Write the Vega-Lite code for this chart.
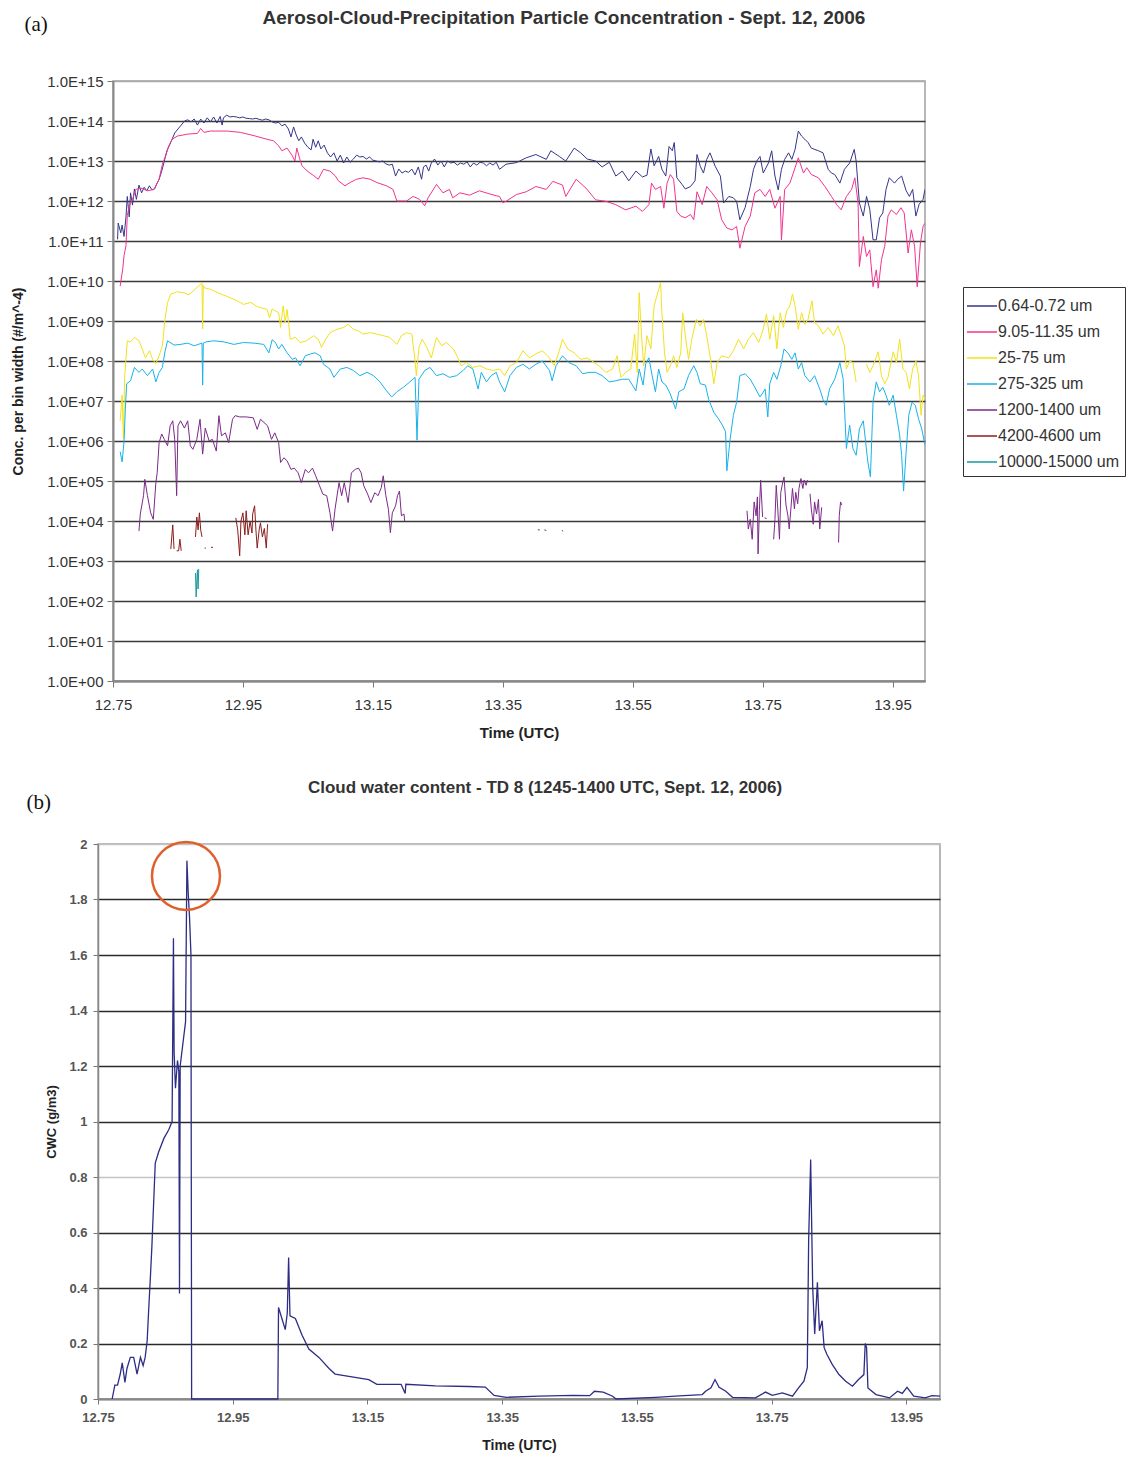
{
"$schema": "https://vega.github.io/schema/vega-lite/v6.json",
"background": "white",
"padding": {"left": 10, "top": 8, "right": 0, "bottom": 0},
"config": {
  "font": "Liberation Sans",
  "view": {"stroke": "#a0a0a0", "strokeWidth": 1.5},
  "axis": {"labelFont": "Liberation Sans", "titleFont": "Liberation Sans", "labelColor": "#333333", "titleColor": "#222222"}
},
"datasets": {
"conc": [
{"s":"0.64-0.72 um","t":12.757,"c":1.1e11},{"s":"0.64-0.72 um","t":12.758,"c":2.8e11},{"s":"0.64-0.72 um","t":12.762,"c":1.6e11},{"s":"0.64-0.72 um","t":12.764,"c":2.5e11},{"s":"0.64-0.72 um","t":12.767,"c":1.3e11},{"s":"0.64-0.72 um","t":12.770,"c":4e11},{"s":"0.64-0.72 um","t":12.772,"c":1.3e12},{"s":"0.64-0.72 um","t":12.775,"c":4e11},{"s":"0.64-0.72 um","t":12.777,"c":1.6e12},{"s":"0.64-0.72 um","t":12.780,"c":7.9e11},{"s":"0.64-0.72 um","t":12.783,"c":2e12},{"s":"0.64-0.72 um","t":12.786,"c":1.1e12},{"s":"0.64-0.72 um","t":12.790,"c":2.5e12},{"s":"0.64-0.72 um","t":12.794,"c":1.6e12},{"s":"0.64-0.72 um","t":12.798,"c":2.2e12},{"s":"0.64-0.72 um","t":12.802,"c":1.8e12},{"s":"0.64-0.72 um","t":12.806,"c":2.4e12},{"s":"0.64-0.72 um","t":12.810,"c":1.9e12},{"s":"0.64-0.72 um","t":12.814,"c":2e12},{"s":"0.64-0.72 um","t":12.818,"c":2.8e12},{"s":"0.64-0.72 um","t":12.821,"c":3.5e12},{"s":"0.64-0.72 um","t":12.825,"c":5.6e12},{"s":"0.64-0.72 um","t":12.829,"c":1e13},{"s":"0.64-0.72 um","t":12.833,"c":1.8e13},{"s":"0.64-0.72 um","t":12.837,"c":2.5e13},{"s":"0.64-0.72 um","t":12.841,"c":3.5e13},{"s":"0.64-0.72 um","t":12.845,"c":5e13},{"s":"0.64-0.72 um","t":12.850,"c":6.3e13},{"s":"0.64-0.72 um","t":12.855,"c":7.9e13},{"s":"0.64-0.72 um","t":12.860,"c":1e14},{"s":"0.64-0.72 um","t":12.865,"c":1.07e14},{"s":"0.64-0.72 um","t":12.870,"c":9.5e13},{"s":"0.64-0.72 um","t":12.875,"c":1.12e14},{"s":"0.64-0.72 um","t":12.880,"c":7.9e13},{"s":"0.64-0.72 um","t":12.885,"c":1.12e14},{"s":"0.64-0.72 um","t":12.890,"c":8.9e13},{"s":"0.64-0.72 um","t":12.895,"c":1.2e14},{"s":"0.64-0.72 um","t":12.900,"c":9.5e13},{"s":"0.64-0.72 um","t":12.905,"c":1.26e14},{"s":"0.64-0.72 um","t":12.910,"c":8.9e13},{"s":"0.64-0.72 um","t":12.915,"c":1.3e14},{"s":"0.64-0.72 um","t":12.918,"c":7.9e13},{"s":"0.64-0.72 um","t":12.920,"c":1.2e14},{"s":"0.64-0.72 um","t":12.925,"c":1.4e14},{"s":"0.64-0.72 um","t":12.930,"c":1.26e14},{"s":"0.64-0.72 um","t":12.935,"c":1.3e14},{"s":"0.64-0.72 um","t":12.940,"c":1.26e14},{"s":"0.64-0.72 um","t":12.945,"c":1.2e14},{"s":"0.64-0.72 um","t":12.950,"c":1.26e14},{"s":"0.64-0.72 um","t":12.955,"c":1.17e14},{"s":"0.64-0.72 um","t":12.960,"c":1.15e14},{"s":"0.64-0.72 um","t":12.965,"c":1.12e14},{"s":"0.64-0.72 um","t":12.970,"c":1.17e14},{"s":"0.64-0.72 um","t":12.975,"c":1.1e14},{"s":"0.64-0.72 um","t":12.980,"c":1.05e14},{"s":"0.64-0.72 um","t":12.985,"c":1.12e14},{"s":"0.64-0.72 um","t":12.990,"c":1.07e14},{"s":"0.64-0.72 um","t":12.995,"c":9.5e13},{"s":"0.64-0.72 um","t":13.000,"c":8.9e13},{"s":"0.64-0.72 um","t":13.005,"c":9.3e13},{"s":"0.64-0.72 um","t":13.010,"c":7.6e13},{"s":"0.64-0.72 um","t":13.015,"c":8.3e13},{"s":"0.64-0.72 um","t":13.020,"c":6.3e13},{"s":"0.64-0.72 um","t":13.024,"c":4e13},{"s":"0.64-0.72 um","t":13.028,"c":7.1e13},{"s":"0.64-0.72 um","t":13.032,"c":4.5e13},{"s":"0.64-0.72 um","t":13.036,"c":3.2e13},{"s":"0.64-0.72 um","t":13.040,"c":4e13},{"s":"0.64-0.72 um","t":13.045,"c":2.8e13},{"s":"0.64-0.72 um","t":13.050,"c":2.2e13},{"s":"0.64-0.72 um","t":13.055,"c":1.9e13},{"s":"0.64-0.72 um","t":13.058,"c":3.5e13},{"s":"0.64-0.72 um","t":13.062,"c":2.2e13},{"s":"0.64-0.72 um","t":13.066,"c":3.2e13},{"s":"0.64-0.72 um","t":13.070,"c":2e13},{"s":"0.64-0.72 um","t":13.075,"c":2.5e13},{"s":"0.64-0.72 um","t":13.080,"c":1.6e13},{"s":"0.64-0.72 um","t":13.085,"c":1.26e13},{"s":"0.64-0.72 um","t":13.090,"c":1.6e13},{"s":"0.64-0.72 um","t":13.095,"c":1e13},{"s":"0.64-0.72 um","t":13.100,"c":1.4e13},{"s":"0.64-0.72 um","t":13.105,"c":8.9e12},{"s":"0.64-0.72 um","t":13.110,"c":1.26e13},{"s":"0.64-0.72 um","t":13.115,"c":9.3e12},{"s":"0.64-0.72 um","t":13.120,"c":1.12e13},{"s":"0.64-0.72 um","t":13.125,"c":1.4e13},{"s":"0.64-0.72 um","t":13.130,"c":1.26e13},{"s":"0.64-0.72 um","t":13.135,"c":1.3e13},{"s":"0.64-0.72 um","t":13.140,"c":1.12e13},{"s":"0.64-0.72 um","t":13.145,"c":1.26e13},{"s":"0.64-0.72 um","t":13.150,"c":1.05e13},{"s":"0.64-0.72 um","t":13.155,"c":1e13},{"s":"0.64-0.72 um","t":13.160,"c":9.5e12},{"s":"0.64-0.72 um","t":13.165,"c":1e13},{"s":"0.64-0.72 um","t":13.170,"c":8.5e12},{"s":"0.64-0.72 um","t":13.175,"c":7.9e12},{"s":"0.64-0.72 um","t":13.180,"c":8.3e12},{"s":"0.64-0.72 um","t":13.185,"c":4.2e12},{"s":"0.64-0.72 um","t":13.190,"c":6.3e12},{"s":"0.64-0.72 um","t":13.195,"c":5e12},{"s":"0.64-0.72 um","t":13.200,"c":5.6e12},{"s":"0.64-0.72 um","t":13.205,"c":5.2e12},{"s":"0.64-0.72 um","t":13.210,"c":6.3e12},{"s":"0.64-0.72 um","t":13.215,"c":4.5e12},{"s":"0.64-0.72 um","t":13.220,"c":7.1e12},{"s":"0.64-0.72 um","t":13.225,"c":3.5e12},{"s":"0.64-0.72 um","t":13.228,"c":7.1e12},{"s":"0.64-0.72 um","t":13.232,"c":7.9e12},{"s":"0.64-0.72 um","t":13.236,"c":5.6e12},{"s":"0.64-0.72 um","t":13.240,"c":8.9e12},{"s":"0.64-0.72 um","t":13.245,"c":1.12e13},{"s":"0.64-0.72 um","t":13.250,"c":7.9e12},{"s":"0.64-0.72 um","t":13.255,"c":1e13},{"s":"0.64-0.72 um","t":13.260,"c":7.1e12},{"s":"0.64-0.72 um","t":13.265,"c":1e13},{"s":"0.64-0.72 um","t":13.270,"c":8.9e12},{"s":"0.64-0.72 um","t":13.275,"c":9.3e12},{"s":"0.64-0.72 um","t":13.280,"c":7.9e12},{"s":"0.64-0.72 um","t":13.285,"c":8.9e12},{"s":"0.64-0.72 um","t":13.290,"c":8.3e12},{"s":"0.64-0.72 um","t":13.295,"c":9.5e12},{"s":"0.64-0.72 um","t":13.300,"c":7.1e12},{"s":"0.64-0.72 um","t":13.305,"c":8.9e12},{"s":"0.64-0.72 um","t":13.310,"c":7.9e12},{"s":"0.64-0.72 um","t":13.315,"c":9.3e12},{"s":"0.64-0.72 um","t":13.320,"c":8.9e12},{"s":"0.64-0.72 um","t":13.325,"c":7.6e12},{"s":"0.64-0.72 um","t":13.330,"c":8.9e12},{"s":"0.64-0.72 um","t":13.335,"c":7.9e12},{"s":"0.64-0.72 um","t":13.340,"c":9.3e12},
{"s":"0.64-0.72 um","t":13.345,"c":6.2e12},{"s":"0.64-0.72 um","t":13.355,"c":8.3e12},{"s":"0.64-0.72 um","t":13.371,"c":9.1e12},{"s":"0.64-0.72 um","t":13.386,"c":1.2e13},{"s":"0.64-0.72 um","t":13.401,"c":1.45e13},{"s":"0.64-0.72 um","t":13.417,"c":1.1e13},{"s":"0.64-0.72 um","t":13.424,"c":1.8e13},{"s":"0.64-0.72 um","t":13.437,"c":1.3e13},{"s":"0.64-0.72 um","t":13.447,"c":1e13},{"s":"0.64-0.72 um","t":13.460,"c":2.1e13},{"s":"0.64-0.72 um","t":13.470,"c":1.6e13},{"s":"0.64-0.72 um","t":13.480,"c":1.12e13},{"s":"0.64-0.72 um","t":13.493,"c":1e13},{"s":"0.64-0.72 um","t":13.503,"c":7.1e12},{"s":"0.64-0.72 um","t":13.514,"c":9.3e12},{"s":"0.64-0.72 um","t":13.524,"c":4.2e12},{"s":"0.64-0.72 um","t":13.534,"c":5.6e12},{"s":"0.64-0.72 um","t":13.544,"c":3.2e12},{"s":"0.64-0.72 um","t":13.555,"c":5.6e12},{"s":"0.64-0.72 um","t":13.565,"c":4e12},{"s":"0.64-0.72 um","t":13.572,"c":4.4e12},{"s":"0.64-0.72 um","t":13.578,"c":2e13},{"s":"0.64-0.72 um","t":13.583,"c":7.6e12},{"s":"0.64-0.72 um","t":13.590,"c":1.3e13},{"s":"0.64-0.72 um","t":13.595,"c":6.2e12},{"s":"0.64-0.72 um","t":13.601,"c":4.2e12},{"s":"0.64-0.72 um","t":13.606,"c":2.3e13},{"s":"0.64-0.72 um","t":13.611,"c":1.8e13},{"s":"0.64-0.72 um","t":13.614,"c":2.9e13},{"s":"0.64-0.72 um","t":13.618,"c":3.8e12},{"s":"0.64-0.72 um","t":13.626,"c":2.6e12},{"s":"0.64-0.72 um","t":13.631,"c":2e12},{"s":"0.64-0.72 um","t":13.639,"c":2.3e12},{"s":"0.64-0.72 um","t":13.646,"c":3.2e12},{"s":"0.64-0.72 um","t":13.649,"c":1.45e13},{"s":"0.64-0.72 um","t":13.654,"c":7.4e12},{"s":"0.64-0.72 um","t":13.659,"c":5e12},{"s":"0.64-0.72 um","t":13.664,"c":1.1e13},{"s":"0.64-0.72 um","t":13.669,"c":1.6e13},{"s":"0.64-0.72 um","t":13.677,"c":7.4e12},{"s":"0.64-0.72 um","t":13.685,"c":4.2e12},{"s":"0.64-0.72 um","t":13.690,"c":8.9e11},{"s":"0.64-0.72 um","t":13.698,"c":1.3e12},{"s":"0.64-0.72 um","t":13.705,"c":1.2e12},{"s":"0.64-0.72 um","t":13.710,"c":9.8e11},{"s":"0.64-0.72 um","t":13.715,"c":3.4e11},{"s":"0.64-0.72 um","t":13.723,"c":6.8e11},{"s":"0.64-0.72 um","t":13.731,"c":2.3e12},{"s":"0.64-0.72 um","t":13.736,"c":6.2e12},{"s":"0.64-0.72 um","t":13.741,"c":1e13},{"s":"0.64-0.72 um","t":13.746,"c":1.3e13},{"s":"0.64-0.72 um","t":13.751,"c":5e12},{"s":"0.64-0.72 um","t":13.759,"c":8.9e12},{"s":"0.64-0.72 um","t":13.764,"c":1.8e13},{"s":"0.64-0.72 um","t":13.769,"c":4.2e12},{"s":"0.64-0.72 um","t":13.774,"c":1.9e12},{"s":"0.64-0.72 um","t":13.779,"c":6.2e12},{"s":"0.64-0.72 um","t":13.784,"c":1.1e13},{"s":"0.64-0.72 um","t":13.790,"c":1.6e13},{"s":"0.64-0.72 um","t":13.795,"c":1.1e13},{"s":"0.64-0.72 um","t":13.800,"c":1.95e13},{"s":"0.64-0.72 um","t":13.805,"c":5.6e13},{"s":"0.64-0.72 um","t":13.810,"c":4.2e13},{"s":"0.64-0.72 um","t":13.815,"c":3.5e13},{"s":"0.64-0.72 um","t":13.820,"c":2.9e13},{"s":"0.64-0.72 um","t":13.825,"c":2.1e13},{"s":"0.64-0.72 um","t":13.836,"c":1.8e13},{"s":"0.64-0.72 um","t":13.843,"c":1.6e13},{"s":"0.64-0.72 um","t":13.851,"c":6.2e12},{"s":"0.64-0.72 um","t":13.856,"c":5e12},{"s":"0.64-0.72 um","t":13.861,"c":4.6e12},{"s":"0.64-0.72 um","t":13.869,"c":2.8e12},{"s":"0.64-0.72 um","t":13.876,"c":6.2e12},{"s":"0.64-0.72 um","t":13.884,"c":8.9e12},{"s":"0.64-0.72 um","t":13.891,"c":1.95e13},{"s":"0.64-0.72 um","t":13.894,"c":1e13},{"s":"0.64-0.72 um","t":13.899,"c":8.9e11},{"s":"0.64-0.72 um","t":13.905,"c":4.2e11},{"s":"0.64-0.72 um","t":13.910,"c":1.3e12},{"s":"0.64-0.72 um","t":13.915,"c":6.2e11},{"s":"0.64-0.72 um","t":13.920,"c":1.07e11},{"s":"0.64-0.72 um","t":13.925,"c":1.07e11},{"s":"0.64-0.72 um","t":13.930,"c":3.8e11},{"s":"0.64-0.72 um","t":13.935,"c":5e11},{"s":"0.64-0.72 um","t":13.940,"c":1.95e12},{"s":"0.64-0.72 um","t":13.945,"c":3.8e12},{"s":"0.64-0.72 um","t":13.953,"c":2.8e12},{"s":"0.64-0.72 um","t":13.958,"c":3.5e12},{"s":"0.64-0.72 um","t":13.964,"c":4.2e12},{"s":"0.64-0.72 um","t":13.971,"c":1.8e12},{"s":"0.64-0.72 um","t":13.976,"c":1.3e12},{"s":"0.64-0.72 um","t":13.981,"c":1.95e12},{"s":"0.64-0.72 um","t":13.986,"c":4.2e11},{"s":"0.64-0.72 um","t":13.991,"c":8.3e11},{"s":"0.64-0.72 um","t":13.997,"c":1.1e12},{"s":"0.64-0.72 um","t":14.000,"c":1.95e12},

{"s":"9.05-11.35 um","t":12.761,"c":7.4e9},{"s":"9.05-11.35 um","t":12.765,"c":2e10},{"s":"9.05-11.35 um","t":12.767,"c":4.3e10},{"s":"9.05-11.35 um","t":12.770,"c":7.6e10},{"s":"9.05-11.35 um","t":12.772,"c":4.3e11},{"s":"9.05-11.35 um","t":12.775,"c":7.6e11},{"s":"9.05-11.35 um","t":12.780,"c":1.1e12},{"s":"9.05-11.35 um","t":12.785,"c":1.95e12},{"s":"9.05-11.35 um","t":12.793,"c":2.1e12},{"s":"9.05-11.35 um","t":12.803,"c":1.8e12},{"s":"9.05-11.35 um","t":12.813,"c":1.95e12},{"s":"9.05-11.35 um","t":12.821,"c":3.5e12},{"s":"9.05-11.35 um","t":12.826,"c":8.3e12},{"s":"9.05-11.35 um","t":12.831,"c":1.35e13},{"s":"9.05-11.35 um","t":12.836,"c":2.4e13},{"s":"9.05-11.35 um","t":12.841,"c":3.5e13},{"s":"9.05-11.35 um","t":12.849,"c":4.2e13},{"s":"9.05-11.35 um","t":12.865,"c":4.7e13},{"s":"9.05-11.35 um","t":12.880,"c":4.9e13},{"s":"9.05-11.35 um","t":12.885,"c":6.5e13},{"s":"9.05-11.35 um","t":12.890,"c":5.2e13},{"s":"9.05-11.35 um","t":12.900,"c":5.6e13},{"s":"9.05-11.35 um","t":12.926,"c":5.6e13},{"s":"9.05-11.35 um","t":12.946,"c":5.2e13},{"s":"9.05-11.35 um","t":12.967,"c":4.3e13},{"s":"9.05-11.35 um","t":12.987,"c":3.5e13},{"s":"9.05-11.35 um","t":12.997,"c":3.2e13},{"s":"9.05-11.35 um","t":13.005,"c":2.4e13},{"s":"9.05-11.35 um","t":13.010,"c":1.8e13},{"s":"9.05-11.35 um","t":13.018,"c":2.1e13},{"s":"9.05-11.35 um","t":13.026,"c":1.35e13},{"s":"9.05-11.35 um","t":13.030,"c":1e13},{"s":"9.05-11.35 um","t":13.033,"c":2.1e13},{"s":"9.05-11.35 um","t":13.037,"c":1.2e13},{"s":"9.05-11.35 um","t":13.041,"c":7.6e12},{"s":"9.05-11.35 um","t":13.049,"c":5.6e12},{"s":"9.05-11.35 um","t":13.059,"c":4.3e12},{"s":"9.05-11.35 um","t":13.066,"c":3.5e12},{"s":"9.05-11.35 um","t":13.074,"c":6.2e12},{"s":"9.05-11.35 um","t":13.084,"c":5.6e12},{"s":"9.05-11.35 um","t":13.092,"c":4.3e12},{"s":"9.05-11.35 um","t":13.097,"c":3.2e12},{"s":"9.05-11.35 um","t":13.107,"c":2.4e12},{"s":"9.05-11.35 um","t":13.115,"c":2.9e12},{"s":"9.05-11.35 um","t":13.125,"c":3.5e12},{"s":"9.05-11.35 um","t":13.135,"c":3.8e12},{"s":"9.05-11.35 um","t":13.146,"c":3.5e12},{"s":"9.05-11.35 um","t":13.156,"c":2.9e12},{"s":"9.05-11.35 um","t":13.171,"c":2.4e12},{"s":"9.05-11.35 um","t":13.181,"c":1.95e12},{"s":"9.05-11.35 um","t":13.187,"c":1e12},{"s":"9.05-11.35 um","t":13.202,"c":1e12},{"s":"9.05-11.35 um","t":13.212,"c":1.3e12},{"s":"9.05-11.35 um","t":13.222,"c":1.1e12},{"s":"9.05-11.35 um","t":13.230,"c":7.6e11},{"s":"9.05-11.35 um","t":13.235,"c":1.2e12},{"s":"9.05-11.35 um","t":13.248,"c":2.6e12},{"s":"9.05-11.35 um","t":13.258,"c":1.6e12},{"s":"9.05-11.35 um","t":13.268,"c":1.95e12},{"s":"9.05-11.35 um","t":13.273,"c":1.2e12},{"s":"9.05-11.35 um","t":13.284,"c":1.6e12},{"s":"9.05-11.35 um","t":13.299,"c":1.4e12},{"s":"9.05-11.35 um","t":13.314,"c":1.8e12},{"s":"9.05-11.35 um","t":13.330,"c":1.5e12},{"s":"9.05-11.35 um","t":13.340,"c":1.35e12},{"s":"9.05-11.35 um","t":13.345,"c":1.3e12},{"s":"9.05-11.35 um","t":13.350,"c":9.1e11},{"s":"9.05-11.35 um","t":13.355,"c":9.8e11},{"s":"9.05-11.35 um","t":13.371,"c":1.45e12},{"s":"9.05-11.35 um","t":13.386,"c":1.7e12},{"s":"9.05-11.35 um","t":13.401,"c":2.3e12},{"s":"9.05-11.35 um","t":13.417,"c":1.95e12},{"s":"9.05-11.35 um","t":13.427,"c":3.1e12},{"s":"9.05-11.35 um","t":13.442,"c":2.5e12},{"s":"9.05-11.35 um","t":13.447,"c":1.3e12},{"s":"9.05-11.35 um","t":13.463,"c":3.5e12},{"s":"9.05-11.35 um","t":13.478,"c":2.1e12},{"s":"9.05-11.35 um","t":13.493,"c":1.07e12},{"s":"9.05-11.35 um","t":13.509,"c":9.8e11},{"s":"9.05-11.35 um","t":13.524,"c":8.1e11},{"s":"9.05-11.35 um","t":13.539,"c":6e11},{"s":"9.05-11.35 um","t":13.555,"c":7.4e11},{"s":"9.05-11.35 um","t":13.565,"c":5.5e11},{"s":"9.05-11.35 um","t":13.575,"c":8.1e11},{"s":"9.05-11.35 um","t":13.579,"c":2.8e12},{"s":"9.05-11.35 um","t":13.585,"c":1.95e12},{"s":"9.05-11.35 um","t":13.593,"c":2.3e12},{"s":"9.05-11.35 um","t":13.598,"c":6.6e11},{"s":"9.05-11.35 um","t":13.603,"c":2.8e12},{"s":"9.05-11.35 um","t":13.608,"c":4.6e12},{"s":"9.05-11.35 um","t":13.613,"c":3.5e12},{"s":"9.05-11.35 um","t":13.618,"c":5.5e11},{"s":"9.05-11.35 um","t":13.624,"c":4.2e11},{"s":"9.05-11.35 um","t":13.631,"c":3.8e11},{"s":"9.05-11.35 um","t":13.639,"c":4.6e11},{"s":"9.05-11.35 um","t":13.644,"c":3.4e11},{"s":"9.05-11.35 um","t":13.649,"c":1.7e12},{"s":"9.05-11.35 um","t":13.657,"c":8.1e11},{"s":"9.05-11.35 um","t":13.664,"c":2.3e12},{"s":"9.05-11.35 um","t":13.672,"c":1.6e12},{"s":"9.05-11.35 um","t":13.680,"c":1.07e12},{"s":"9.05-11.35 um","t":13.687,"c":3.4e11},{"s":"9.05-11.35 um","t":13.695,"c":2.1e11},{"s":"9.05-11.35 um","t":13.703,"c":1.9e11},{"s":"9.05-11.35 um","t":13.710,"c":2.3e11},{"s":"9.05-11.35 um","t":13.715,"c":6.6e10},{"s":"9.05-11.35 um","t":13.723,"c":2.3e11},{"s":"9.05-11.35 um","t":13.731,"c":4.2e11},{"s":"9.05-11.35 um","t":13.738,"c":1.6e12},{"s":"9.05-11.35 um","t":13.746,"c":1.95e12},{"s":"9.05-11.35 um","t":13.754,"c":1.3e12},{"s":"9.05-11.35 um","t":13.761,"c":1.95e12},{"s":"9.05-11.35 um","t":13.769,"c":6.6e11},{"s":"9.05-11.35 um","t":13.777,"c":1.3e12},{"s":"9.05-11.35 um","t":13.779,"c":1.07e11},{"s":"9.05-11.35 um","t":13.784,"c":1.95e12},{"s":"9.05-11.35 um","t":13.792,"c":2.8e12},{"s":"9.05-11.35 um","t":13.800,"c":6.8e12},{"s":"9.05-11.35 um","t":13.805,"c":1.2e13},{"s":"9.05-11.35 um","t":13.813,"c":5e12},{"s":"9.05-11.35 um","t":13.818,"c":6.8e12},{"s":"9.05-11.35 um","t":13.825,"c":4.6e12},{"s":"9.05-11.35 um","t":13.836,"c":3.8e12},{"s":"9.05-11.35 um","t":13.846,"c":2.3e12},{"s":"9.05-11.35 um","t":13.856,"c":1.3e12},{"s":"9.05-11.35 um","t":13.864,"c":8.1e11},{"s":"9.05-11.35 um","t":13.871,"c":6e11},{"s":"9.05-11.35 um","t":13.879,"c":1.3e12},{"s":"9.05-11.35 um","t":13.887,"c":1.95e12},{"s":"9.05-11.35 um","t":13.892,"c":3.8e12},{"s":"9.05-11.35 um","t":13.897,"c":8.9e11},{"s":"9.05-11.35 um","t":13.899,"c":2.3e10},{"s":"9.05-11.35 um","t":13.905,"c":1.3e11},{"s":"9.05-11.35 um","t":13.910,"c":4.1e10},{"s":"9.05-11.35 um","t":13.915,"c":6e10},{"s":"9.05-11.35 um","t":13.920,"c":7.2e9},{"s":"9.05-11.35 um","t":13.925,"c":1.9e10},{"s":"9.05-11.35 um","t":13.928,"c":6.6e9},{"s":"9.05-11.35 um","t":13.933,"c":3.4e10},{"s":"9.05-11.35 um","t":13.938,"c":7.4e10},{"s":"9.05-11.35 um","t":13.943,"c":4.2e11},{"s":"9.05-11.35 um","t":13.948,"c":6e11},{"s":"9.05-11.35 um","t":13.956,"c":4.6e11},{"s":"9.05-11.35 um","t":13.963,"c":6.8e11},{"s":"9.05-11.35 um","t":13.968,"c":5e11},{"s":"9.05-11.35 um","t":13.974,"c":5e10},{"s":"9.05-11.35 um","t":13.979,"c":1.9e11},{"s":"9.05-11.35 um","t":13.984,"c":7.4e10},{"s":"9.05-11.35 um","t":13.988,"c":7.2e9},{"s":"9.05-11.35 um","t":13.993,"c":8.9e10},{"s":"9.05-11.35 um","t":13.997,"c":2.3e11},{"s":"9.05-11.35 um","t":14.000,"c":2.8e11},

{"s":"25-75 um","g":"y1","t":12.761,"c":3.2e6},{"s":"25-75 um","g":"y1","t":12.764,"c":1.4e7},{"s":"25-75 um","g":"y1","t":12.766,"c":1.15e6},{"s":"25-75 um","g":"y1","t":12.768,"c":4.3e7},{"s":"25-75 um","g":"y1","t":12.772,"c":3.2e8},{"s":"25-75 um","g":"y1","t":12.777,"c":3e8},{"s":"25-75 um","g":"y1","t":12.783,"c":3.9e8},{"s":"25-75 um","g":"y1","t":12.790,"c":3.2e8},{"s":"25-75 um","g":"y1","t":12.795,"c":2e8},{"s":"25-75 um","g":"y1","t":12.800,"c":1.2e8},{"s":"25-75 um","g":"y1","t":12.806,"c":1.8e8},{"s":"25-75 um","g":"y1","t":12.811,"c":1.1e8},{"s":"25-75 um","g":"y1","t":12.816,"c":8.5e7},{"s":"25-75 um","g":"y1","t":12.821,"c":1.35e8},{"s":"25-75 um","g":"y1","t":12.826,"c":2.4e8},{"s":"25-75 um","g":"y1","t":12.830,"c":1.1e9},{"s":"25-75 um","g":"y1","t":12.834,"c":2.9e9},{"s":"25-75 um","g":"y1","t":12.839,"c":4.7e9},{"s":"25-75 um","g":"y1","t":12.849,"c":5.4e9},{"s":"25-75 um","g":"y1","t":12.860,"c":5e9},{"s":"25-75 um","g":"y1","t":12.867,"c":4.5e9},{"s":"25-75 um","g":"y1","t":12.875,"c":6e9},{"s":"25-75 um","g":"y1","t":12.885,"c":8.3e9},{"s":"25-75 um","g":"y1","t":12.887,"c":9.1e9},{"s":"25-75 um","g":"y1","t":12.888,"c":6.3e8},{"s":"25-75 um","g":"y1","t":12.889,"c":7.9e9},{"s":"25-75 um","g":"y1","t":12.890,"c":6.8e9},{"s":"25-75 um","g":"y1","t":12.900,"c":6.2e9},{"s":"25-75 um","g":"y1","t":12.916,"c":4.7e9},{"s":"25-75 um","g":"y1","t":12.926,"c":4.1e9},{"s":"25-75 um","g":"y1","t":12.941,"c":3.2e9},{"s":"25-75 um","g":"y1","t":12.951,"c":2.6e9},{"s":"25-75 um","g":"y1","t":12.962,"c":2.9e9},{"s":"25-75 um","g":"y1","t":12.972,"c":2.3e9},{"s":"25-75 um","g":"y1","t":12.987,"c":1.95e9},{"s":"25-75 um","g":"y1","t":12.991,"c":1.2e9},{"s":"25-75 um","g":"y1","t":12.995,"c":2e9},{"s":"25-75 um","g":"y1","t":13.005,"c":1.6e9},{"s":"25-75 um","g":"y1","t":13.008,"c":6.9e8},{"s":"25-75 um","g":"y1","t":13.012,"c":2.4e9},{"s":"25-75 um","g":"y1","t":13.015,"c":9.1e8},{"s":"25-75 um","g":"y1","t":13.018,"c":1.95e9},{"s":"25-75 um","g":"y1","t":13.023,"c":3.5e8},{"s":"25-75 um","g":"y1","t":13.031,"c":3.9e8},{"s":"25-75 um","g":"y1","t":13.038,"c":2.9e8},{"s":"25-75 um","g":"y1","t":13.048,"c":3.2e8},{"s":"25-75 um","g":"y1","t":13.059,"c":4.3e8},{"s":"25-75 um","g":"y1","t":13.066,"c":3.5e8},{"s":"25-75 um","g":"y1","t":13.071,"c":2.2e8},{"s":"25-75 um","g":"y1","t":13.076,"c":3.2e8},{"s":"25-75 um","g":"y1","t":13.084,"c":5.1e8},{"s":"25-75 um","g":"y1","t":13.095,"c":6.2e8},{"s":"25-75 um","g":"y1","t":13.105,"c":6.9e8},{"s":"25-75 um","g":"y1","t":13.112,"c":8.3e8},{"s":"25-75 um","g":"y1","t":13.120,"c":6.2e8},{"s":"25-75 um","g":"y1","t":13.128,"c":5.6e8},{"s":"25-75 um","g":"y1","t":13.135,"c":4.7e8},{"s":"25-75 um","g":"y1","t":13.146,"c":5.1e8},{"s":"25-75 um","g":"y1","t":13.156,"c":4.7e8},{"s":"25-75 um","g":"y1","t":13.166,"c":4.3e8},{"s":"25-75 um","g":"y1","t":13.176,"c":3.9e8},{"s":"25-75 um","g":"y1","t":13.187,"c":2.6e8},{"s":"25-75 um","g":"y1","t":13.194,"c":4.3e8},{"s":"25-75 um","g":"y1","t":13.202,"c":5.1e8},{"s":"25-75 um","g":"y1","t":13.210,"c":4.7e8},{"s":"25-75 um","g":"y1","t":13.215,"c":1e8},{"s":"25-75 um","g":"y1","t":13.217,"c":4.3e7},{"s":"25-75 um","g":"y1","t":13.221,"c":2.2e8},{"s":"25-75 um","g":"y1","t":13.226,"c":3.5e8},{"s":"25-75 um","g":"y1","t":13.233,"c":2.2e8},{"s":"25-75 um","g":"y1","t":13.240,"c":1.2e8},{"s":"25-75 um","g":"y1","t":13.248,"c":3.9e8},{"s":"25-75 um","g":"y1","t":13.256,"c":2.4e8},{"s":"25-75 um","g":"y1","t":13.263,"c":2.9e8},{"s":"25-75 um","g":"y1","t":13.274,"c":2e8},{"s":"25-75 um","g":"y1","t":13.281,"c":1.2e8},{"s":"25-75 um","g":"y1","t":13.286,"c":7.6e7},{"s":"25-75 um","g":"y1","t":13.294,"c":9.1e7},{"s":"25-75 um","g":"y1","t":13.304,"c":6.9e7},{"s":"25-75 um","g":"y1","t":13.315,"c":7.6e7},{"s":"25-75 um","g":"y1","t":13.325,"c":6.3e7},{"s":"25-75 um","g":"y1","t":13.335,"c":5.8e7},{"s":"25-75 um","g":"y1","t":13.345,"c":6.3e7},{"s":"25-75 um","g":"y1","t":13.353,"c":4.3e7},{"s":"25-75 um","g":"y1","t":13.361,"c":7.6e7},{"s":"25-75 um","g":"y1","t":13.371,"c":9.1e7},{"s":"25-75 um","g":"y1","t":13.381,"c":1.8e8},{"s":"25-75 um","g":"y1","t":13.391,"c":1.2e8},{"s":"25-75 um","g":"y1","t":13.401,"c":1.5e8},{"s":"25-75 um","g":"y1","t":13.411,"c":1.8e8},{"s":"25-75 um","g":"y1","t":13.422,"c":1.2e8},{"s":"25-75 um","g":"y1","t":13.429,"c":7.6e7},{"s":"25-75 um","g":"y1","t":13.437,"c":1.8e8},{"s":"25-75 um","g":"y1","t":13.442,"c":3.5e8},{"s":"25-75 um","g":"y1","t":13.450,"c":2e8},{"s":"25-75 um","g":"y1","t":13.460,"c":1.6e8},{"s":"25-75 um","g":"y1","t":13.470,"c":1.1e8},{"s":"25-75 um","g":"y1","t":13.480,"c":1.2e8},{"s":"25-75 um","g":"y1","t":13.491,"c":9.1e7},{"s":"25-75 um","g":"y1","t":13.498,"c":7.6e7},{"s":"25-75 um","g":"y1","t":13.509,"c":5.2e7},{"s":"25-75 um","g":"y1","t":13.519,"c":6.3e7},{"s":"25-75 um","g":"y1","t":13.526,"c":1.35e8},{"s":"25-75 um","g":"y1","t":13.532,"c":3.9e7},{"s":"25-75 um","g":"y1","t":13.539,"c":5.2e7},{"s":"25-75 um","g":"y1","t":13.547,"c":6.3e7},{"s":"25-75 um","g":"y1","t":13.553,"c":4.7e8},{"s":"25-75 um","g":"y1","t":13.557,"c":5.2e7},{"s":"25-75 um","g":"y1","t":13.560,"c":5.1e9},{"s":"25-75 um","g":"y1","t":13.564,"c":3.5e8},{"s":"25-75 um","g":"y1","t":13.567,"c":7.6e7},{"s":"25-75 um","g":"y1","t":13.572,"c":4.3e8},{"s":"25-75 um","g":"y1","t":13.578,"c":2e8},{"s":"25-75 um","g":"y1","t":13.583,"c":2.4e9},{"s":"25-75 um","g":"y1","t":13.588,"c":4.7e9},{"s":"25-75 um","g":"y1","t":13.593,"c":9.1e9},{"s":"25-75 um","g":"y1","t":13.595,"c":1.6e9},{"s":"25-75 um","g":"y1","t":13.599,"c":1.6e8},{"s":"25-75 um","g":"y1","t":13.603,"c":5.2e7},{"s":"25-75 um","g":"y1","t":13.608,"c":7.6e7},{"s":"25-75 um","g":"y1","t":13.613,"c":1.35e8},{"s":"25-75 um","g":"y1","t":13.618,"c":6.9e7},{"s":"25-75 um","g":"y1","t":13.624,"c":1.6e8},{"s":"25-75 um","g":"y1","t":13.627,"c":1.6e9},{"s":"25-75 um","g":"y1","t":13.631,"c":4.3e8},{"s":"25-75 um","g":"y1","t":13.636,"c":1.1e8},{"s":"25-75 um","g":"y1","t":13.641,"c":3.5e8},{"s":"25-75 um","g":"y1","t":13.648,"c":1.1e9},{"s":"25-75 um","g":"y1","t":13.654,"c":7.6e8},{"s":"25-75 um","g":"y1","t":13.659,"c":1.1e9},{"s":"25-75 um","g":"y1","t":13.664,"c":4.3e8},{"s":"25-75 um","g":"y1","t":13.669,"c":1.35e8},{"s":"25-75 um","g":"y1","t":13.675,"c":2.7e7},{"s":"25-75 um","g":"y1","t":13.680,"c":9.1e7},{"s":"25-75 um","g":"y1","t":13.687,"c":1.35e8},{"s":"25-75 um","g":"y1","t":13.698,"c":1.2e8},{"s":"25-75 um","g":"y1","t":13.705,"c":1.8e8},{"s":"25-75 um","g":"y1","t":13.713,"c":3.5e8},{"s":"25-75 um","g":"y1","t":13.721,"c":2e8},{"s":"25-75 um","g":"y1","t":13.728,"c":3.5e8},{"s":"25-75 um","g":"y1","t":13.736,"c":5.1e8},{"s":"25-75 um","g":"y1","t":13.744,"c":2.9e8},{"s":"25-75 um","g":"y1","t":13.751,"c":6.2e8},{"s":"25-75 um","g":"y1","t":13.756,"c":1.5e9},{"s":"25-75 um","g":"y1","t":13.761,"c":3.5e8},{"s":"25-75 um","g":"y1","t":13.767,"c":1.35e9},{"s":"25-75 um","g":"y1","t":13.772,"c":2e8},{"s":"25-75 um","g":"y1","t":13.777,"c":1.6e9},{"s":"25-75 um","g":"y1","t":13.782,"c":6.9e8},{"s":"25-75 um","g":"y1","t":13.787,"c":1.8e9},{"s":"25-75 um","g":"y1","t":13.792,"c":2.4e9},{"s":"25-75 um","g":"y1","t":13.796,"c":4.7e9},{"s":"25-75 um","g":"y1","t":13.800,"c":2.4e9},{"s":"25-75 um","g":"y1","t":13.805,"c":6.2e8},{"s":"25-75 um","g":"y1","t":13.810,"c":1.6e9},{"s":"25-75 um","g":"y1","t":13.815,"c":8.3e8},{"s":"25-75 um","g":"y1","t":13.820,"c":1.1e9},{"s":"25-75 um","g":"y1","t":13.826,"c":3.2e9},{"s":"25-75 um","g":"y1","t":13.830,"c":9.1e8},{"s":"25-75 um","g":"y1","t":13.836,"c":7.6e8},{"s":"25-75 um","g":"y1","t":13.843,"c":4.7e8},{"s":"25-75 um","g":"y1","t":13.851,"c":6.9e8},{"s":"25-75 um","g":"y1","t":13.859,"c":4.3e8},{"s":"25-75 um","g":"y1","t":13.866,"c":7.6e8},{"s":"25-75 um","g":"y1","t":13.871,"c":4.3e8},{"s":"25-75 um","g":"y1","t":13.876,"c":2.4e8},{"s":"25-75 um","g":"y1","t":13.879,"c":6.3e7},{"s":"25-75 um","g":"y1","t":13.884,"c":1e8},{"s":"25-75 um","g":"y1","t":13.889,"c":9.1e7},{"s":"25-75 um","g":"y1","t":13.894,"c":3e7},
{"s":"25-75 um","g":"y2","t":13.910,"c":8.3e7},{"s":"25-75 um","g":"y2","t":13.915,"c":5.2e7},{"s":"25-75 um","g":"y2","t":13.920,"c":7.6e7},{"s":"25-75 um","g":"y2","t":13.928,"c":1.7e8},{"s":"25-75 um","g":"y2","t":13.933,"c":4.3e7},{"s":"25-75 um","g":"y2","t":13.938,"c":2.7e7},{"s":"25-75 um","g":"y2","t":13.943,"c":3.9e7},{"s":"25-75 um","g":"y2","t":13.951,"c":1.7e8},{"s":"25-75 um","g":"y2","t":13.956,"c":9.1e7},{"s":"25-75 um","g":"y2","t":13.961,"c":3.5e8},{"s":"25-75 um","g":"y2","t":13.966,"c":6.3e7},{"s":"25-75 um","g":"y2","t":13.971,"c":5.2e7},{"s":"25-75 um","g":"y2","t":13.976,"c":2e7},{"s":"25-75 um","g":"y2","t":13.981,"c":6.3e7},{"s":"25-75 um","g":"y2","t":13.986,"c":1e8},{"s":"25-75 um","g":"y2","t":13.990,"c":4.3e7},{"s":"25-75 um","g":"y2","t":13.994,"c":4.4e6},{"s":"25-75 um","g":"y2","t":13.997,"c":1.4e7},{"s":"25-75 um","g":"y2","t":14.000,"c":1.1e7},

{"s":"275-325 um","t":12.761,"c":5.4e5},{"s":"275-325 um","t":12.764,"c":3e5},{"s":"275-325 um","t":12.767,"c":9.5e5},{"s":"275-325 um","t":12.769,"c":6.3e6},{"s":"275-325 um","t":12.771,"c":2.7e7},{"s":"275-325 um","t":12.777,"c":3.2e7},{"s":"275-325 um","t":12.783,"c":6.9e7},{"s":"275-325 um","t":12.790,"c":5.2e7},{"s":"275-325 um","t":12.795,"c":6.3e7},{"s":"275-325 um","t":12.803,"c":4.3e7},{"s":"275-325 um","t":12.811,"c":6.3e7},{"s":"275-325 um","t":12.816,"c":3e7},{"s":"275-325 um","t":12.821,"c":5.2e7},{"s":"275-325 um","t":12.826,"c":6.9e7},{"s":"275-325 um","t":12.830,"c":1.7e8},{"s":"275-325 um","t":12.834,"c":3.2e8},{"s":"275-325 um","t":12.844,"c":2.5e8},{"s":"275-325 um","t":12.854,"c":2.6e8},{"s":"275-325 um","t":12.865,"c":2.8e8},{"s":"275-325 um","t":12.875,"c":2.4e8},{"s":"275-325 um","t":12.887,"c":2.8e8},{"s":"275-325 um","t":12.888,"c":2.5e7},{"s":"275-325 um","t":12.889,"c":2.8e8},{"s":"275-325 um","t":12.893,"c":3e8},{"s":"275-325 um","t":12.905,"c":3.2e8},{"s":"275-325 um","t":12.921,"c":3e8},{"s":"275-325 um","t":12.936,"c":2.6e8},{"s":"275-325 um","t":12.951,"c":2.9e8},{"s":"275-325 um","t":12.967,"c":2.8e8},{"s":"275-325 um","t":12.982,"c":2.6e8},{"s":"275-325 um","t":12.990,"c":1.6e8},{"s":"275-325 um","t":12.995,"c":3.4e8},{"s":"275-325 um","t":13.000,"c":2.9e8},{"s":"275-325 um","t":13.005,"c":2e8},{"s":"275-325 um","t":13.010,"c":2.6e8},{"s":"275-325 um","t":13.018,"c":1.6e8},{"s":"275-325 um","t":13.026,"c":1.1e8},{"s":"275-325 um","t":13.031,"c":1.2e8},{"s":"275-325 um","t":13.038,"c":7.6e7},{"s":"275-325 um","t":13.046,"c":1.35e8},{"s":"275-325 um","t":13.054,"c":1.5e8},{"s":"275-325 um","t":13.061,"c":1.6e8},{"s":"275-325 um","t":13.069,"c":1.35e8},{"s":"275-325 um","t":13.074,"c":8.3e7},{"s":"275-325 um","t":13.084,"c":6.3e7},{"s":"275-325 um","t":13.090,"c":3.9e7},{"s":"275-325 um","t":13.100,"c":6.3e7},{"s":"275-325 um","t":13.110,"c":6.9e7},{"s":"275-325 um","t":13.120,"c":5.8e7},{"s":"275-325 um","t":13.130,"c":4.3e7},{"s":"275-325 um","t":13.141,"c":5.2e7},{"s":"275-325 um","t":13.151,"c":4.3e7},{"s":"275-325 um","t":13.161,"c":3e7},{"s":"275-325 um","t":13.171,"c":1.8e7},{"s":"275-325 um","t":13.179,"c":1.26e7},{"s":"275-325 um","t":13.187,"c":1.7e7},{"s":"275-325 um","t":13.197,"c":2.2e7},{"s":"275-325 um","t":13.207,"c":3e7},{"s":"275-325 um","t":13.215,"c":3.9e7},{"s":"275-325 um","t":13.218,"c":1.05e6},{"s":"275-325 um","t":13.221,"c":3.5e7},{"s":"275-325 um","t":13.230,"c":5.8e7},{"s":"275-325 um","t":13.238,"c":6.9e7},{"s":"275-325 um","t":13.248,"c":4.3e7},{"s":"275-325 um","t":13.258,"c":4.8e7},{"s":"275-325 um","t":13.268,"c":3.9e7},{"s":"275-325 um","t":13.279,"c":4.3e7},{"s":"275-325 um","t":13.289,"c":5.8e7},{"s":"275-325 um","t":13.296,"c":7.6e7},{"s":"275-325 um","t":13.304,"c":6.3e7},{"s":"275-325 um","t":13.312,"c":2e7},{"s":"275-325 um","t":13.317,"c":5.2e7},{"s":"275-325 um","t":13.325,"c":3e7},{"s":"275-325 um","t":13.332,"c":4.3e7},{"s":"275-325 um","t":13.340,"c":5.2e7},{"s":"275-325 um","t":13.345,"c":3e7},{"s":"275-325 um","t":13.353,"c":1.7e7},{"s":"275-325 um","t":13.361,"c":4.3e7},{"s":"275-325 um","t":13.371,"c":6.9e7},{"s":"275-325 um","t":13.381,"c":8.3e7},{"s":"275-325 um","t":13.391,"c":6.3e7},{"s":"275-325 um","t":13.401,"c":8.3e7},{"s":"275-325 um","t":13.411,"c":1e8},{"s":"275-325 um","t":13.422,"c":5.8e7},{"s":"275-325 um","t":13.426,"c":3.2e7},{"s":"275-325 um","t":13.432,"c":7.6e7},{"s":"275-325 um","t":13.442,"c":1.35e8},{"s":"275-325 um","t":13.452,"c":9.1e7},{"s":"275-325 um","t":13.463,"c":7.6e7},{"s":"275-325 um","t":13.473,"c":4.8e7},{"s":"275-325 um","t":13.483,"c":5.2e7},{"s":"275-325 um","t":13.493,"c":5.2e7},{"s":"275-325 um","t":13.503,"c":4.3e7},{"s":"275-325 um","t":13.514,"c":3e7},{"s":"275-325 um","t":13.524,"c":3.2e7},{"s":"275-325 um","t":13.534,"c":3.5e7},{"s":"275-325 um","t":13.544,"c":3.5e7},{"s":"275-325 um","t":13.555,"c":1.8e7},{"s":"275-325 um","t":13.560,"c":6.3e7},{"s":"275-325 um","t":13.566,"c":2.5e7},{"s":"275-325 um","t":13.570,"c":8.5e7},{"s":"275-325 um","t":13.575,"c":1.2e8},{"s":"275-325 um","t":13.580,"c":4.3e7},{"s":"275-325 um","t":13.585,"c":1.7e7},{"s":"275-325 um","t":13.590,"c":6.3e7},{"s":"275-325 um","t":13.595,"c":3e7},{"s":"275-325 um","t":13.601,"c":2.5e7},{"s":"275-325 um","t":13.608,"c":1.5e7},{"s":"275-325 um","t":13.616,"c":6.3e6},{"s":"275-325 um","t":13.621,"c":1.7e7},{"s":"275-325 um","t":13.629,"c":2e7},{"s":"275-325 um","t":13.636,"c":4.3e7},{"s":"275-325 um","t":13.644,"c":7.6e7},{"s":"275-325 um","t":13.649,"c":5.2e7},{"s":"275-325 um","t":13.654,"c":2.7e7},{"s":"275-325 um","t":13.662,"c":2.5e7},{"s":"275-325 um","t":13.667,"c":1.1e7},{"s":"275-325 um","t":13.675,"c":5.2e6},{"s":"275-325 um","t":13.682,"c":3.6e6},{"s":"275-325 um","t":13.688,"c":2.5e6},{"s":"275-325 um","t":13.693,"c":1.7e6},{"s":"275-325 um","t":13.695,"c":1.8e5},{"s":"275-325 um","t":13.700,"c":1.1e6},{"s":"275-325 um","t":13.705,"c":4.4e6},{"s":"275-325 um","t":13.710,"c":9.3e6},{"s":"275-325 um","t":13.715,"c":4.3e7},{"s":"275-325 um","t":13.723,"c":4.8e7},{"s":"275-325 um","t":13.731,"c":3.5e7},{"s":"275-325 um","t":13.738,"c":2.2e7},{"s":"275-325 um","t":13.746,"c":1.26e7},{"s":"275-325 um","t":13.754,"c":2e7},{"s":"275-325 um","t":13.758,"c":4e6},{"s":"275-325 um","t":13.761,"c":2.7e7},{"s":"275-325 um","t":13.767,"c":5.2e7},{"s":"275-325 um","t":13.772,"c":3.5e7},{"s":"275-325 um","t":13.778,"c":7.6e7},{"s":"275-325 um","t":13.783,"c":2e8},{"s":"275-325 um","t":13.790,"c":1.5e8},{"s":"275-325 um","t":13.795,"c":1.1e8},{"s":"275-325 um","t":13.800,"c":1.6e8},{"s":"275-325 um","t":13.805,"c":6.3e7},{"s":"275-325 um","t":13.810,"c":9.1e7},{"s":"275-325 um","t":13.815,"c":4.3e7},{"s":"275-325 um","t":13.823,"c":3e7},{"s":"275-325 um","t":13.830,"c":4.3e7},{"s":"275-325 um","t":13.838,"c":2e7},{"s":"275-325 um","t":13.843,"c":1.1e7},{"s":"275-325 um","t":13.848,"c":7.8e6},{"s":"275-325 um","t":13.853,"c":2e7},{"s":"275-325 um","t":13.861,"c":3.5e7},{"s":"275-325 um","t":13.869,"c":9.1e7},{"s":"275-325 um","t":13.874,"c":3.5e7},{"s":"275-325 um","t":13.879,"c":6.5e5},{"s":"275-325 um","t":13.884,"c":2.5e6},{"s":"275-325 um","t":13.889,"c":6.5e5},{"s":"275-325 um","t":13.894,"c":4.4e5},{"s":"275-325 um","t":13.899,"c":2e6},{"s":"275-325 um","t":13.905,"c":3.2e6},{"s":"275-325 um","t":13.912,"c":3e5},{"s":"275-325 um","t":13.916,"c":1.26e5},{"s":"275-325 um","t":13.920,"c":9.3e6},{"s":"275-325 um","t":13.925,"c":3e7},{"s":"275-325 um","t":13.930,"c":1.7e7},{"s":"275-325 um","t":13.935,"c":2.2e7},{"s":"275-325 um","t":13.940,"c":1.4e7},{"s":"275-325 um","t":13.945,"c":7.8e6},{"s":"275-325 um","t":13.951,"c":1.4e7},{"s":"275-325 um","t":13.956,"c":4.4e6},{"s":"275-325 um","t":13.961,"c":1.4e6},{"s":"275-325 um","t":13.964,"c":4.4e5},{"s":"275-325 um","t":13.967,"c":5.6e4},{"s":"275-325 um","t":13.971,"c":5.4e5},{"s":"275-325 um","t":13.975,"c":4.4e6},{"s":"275-325 um","t":13.980,"c":9.3e6},{"s":"275-325 um","t":13.985,"c":7.8e6},{"s":"275-325 um","t":13.990,"c":3.6e6},{"s":"275-325 um","t":13.995,"c":2e6},{"s":"275-325 um","t":14.000,"c":7.8e5},

{"s":"1200-1400 um","g":"p1","t":12.790,"c":5.6e3},{"s":"1200-1400 um","g":"p1","t":12.792,"c":1.5e4},{"s":"1200-1400 um","g":"p1","t":12.797,"c":4.3e4},{"s":"1200-1400 um","g":"p1","t":12.799,"c":1.1e5},{"s":"1200-1400 um","g":"p1","t":12.803,"c":4.3e4},{"s":"1200-1400 um","g":"p1","t":12.808,"c":1.6e4},{"s":"1200-1400 um","g":"p1","t":12.812,"c":1.1e4},{"s":"1200-1400 um","g":"p1","t":12.816,"c":9.1e4},{"s":"1200-1400 um","g":"p1","t":12.818,"c":1.6e5},{"s":"1200-1400 um","g":"p1","t":12.821,"c":9.1e5},{"s":"1200-1400 um","g":"p1","t":12.825,"c":1.5e6},{"s":"1200-1400 um","g":"p1","t":12.829,"c":1.1e6},{"s":"1200-1400 um","g":"p1","t":12.834,"c":7.6e5},{"s":"1200-1400 um","g":"p1","t":12.838,"c":2.4e6},{"s":"1200-1400 um","g":"p1","t":12.842,"c":3.2e6},{"s":"1200-1400 um","g":"p1","t":12.845,"c":1.1e6},{"s":"1200-1400 um","g":"p1","t":12.848,"c":4.3e4},{"s":"1200-1400 um","g":"p1","t":12.850,"c":2.4e6},{"s":"1200-1400 um","g":"p1","t":12.854,"c":3.2e6},{"s":"1200-1400 um","g":"p1","t":12.860,"c":2.1e6},{"s":"1200-1400 um","g":"p1","t":12.865,"c":3.2e6},{"s":"1200-1400 um","g":"p1","t":12.869,"c":7.6e5},{"s":"1200-1400 um","g":"p1","t":12.873,"c":6.2e5},{"s":"1200-1400 um","g":"p1","t":12.879,"c":1.1e6},{"s":"1200-1400 um","g":"p1","t":12.884,"c":3.5e6},{"s":"1200-1400 um","g":"p1","t":12.888,"c":4.7e5},{"s":"1200-1400 um","g":"p1","t":12.892,"c":2.1e6},{"s":"1200-1400 um","g":"p1","t":12.898,"c":1e6},{"s":"1200-1400 um","g":"p1","t":12.903,"c":1.1e6},{"s":"1200-1400 um","g":"p1","t":12.909,"c":5.6e5},{"s":"1200-1400 um","g":"p1","t":12.913,"c":4.3e6},{"s":"1200-1400 um","g":"p1","t":12.917,"c":1.35e6},{"s":"1200-1400 um","g":"p1","t":12.923,"c":1.6e6},{"s":"1200-1400 um","g":"p1","t":12.928,"c":9.1e5},{"s":"1200-1400 um","g":"p1","t":12.934,"c":3.5e6},{"s":"1200-1400 um","g":"p1","t":12.938,"c":4.3e6},{"s":"1200-1400 um","g":"p1","t":12.945,"c":4e6},{"s":"1200-1400 um","g":"p1","t":12.955,"c":4e6},{"s":"1200-1400 um","g":"p1","t":12.966,"c":3.8e6},{"s":"1200-1400 um","g":"p1","t":12.972,"c":1.95e6},{"s":"1200-1400 um","g":"p1","t":12.977,"c":3.5e6},{"s":"1200-1400 um","g":"p1","t":12.988,"c":2.4e6},{"s":"1200-1400 um","g":"p1","t":12.994,"c":1.1e6},{"s":"1200-1400 um","g":"p1","t":12.999,"c":1.6e6},{"s":"1200-1400 um","g":"p1","t":13.005,"c":9.1e5},{"s":"1200-1400 um","g":"p1","t":13.008,"c":2.9e5},{"s":"1200-1400 um","g":"p1","t":13.013,"c":3.8e5},{"s":"1200-1400 um","g":"p1","t":13.018,"c":3.2e5},{"s":"1200-1400 um","g":"p1","t":13.024,"c":1.95e5},{"s":"1200-1400 um","g":"p1","t":13.029,"c":2.1e5},{"s":"1200-1400 um","g":"p1","t":13.035,"c":1.6e5},{"s":"1200-1400 um","g":"p1","t":13.040,"c":9.1e4},{"s":"1200-1400 um","g":"p1","t":13.046,"c":1.95e5},{"s":"1200-1400 um","g":"p1","t":13.051,"c":1.6e5},{"s":"1200-1400 um","g":"p1","t":13.057,"c":2.1e5},{"s":"1200-1400 um","g":"p1","t":13.062,"c":1.35e5},{"s":"1200-1400 um","g":"p1","t":13.068,"c":7.6e4},{"s":"1200-1400 um","g":"p1","t":13.073,"c":4.7e4},{"s":"1200-1400 um","g":"p1","t":13.079,"c":4.3e4},{"s":"1200-1400 um","g":"p1","t":13.084,"c":1.6e4},{"s":"1200-1400 um","g":"p1","t":13.088,"c":5.6e3},{"s":"1200-1400 um","g":"p1","t":13.092,"c":2.1e4},{"s":"1200-1400 um","g":"p1","t":13.098,"c":9.1e4},{"s":"1200-1400 um","g":"p1","t":13.102,"c":4.3e4},{"s":"1200-1400 um","g":"p1","t":13.106,"c":9.1e4},{"s":"1200-1400 um","g":"p1","t":13.112,"c":2.9e4},{"s":"1200-1400 um","g":"p1","t":13.117,"c":1.6e5},{"s":"1200-1400 um","g":"p1","t":13.123,"c":1.95e5},{"s":"1200-1400 um","g":"p1","t":13.128,"c":2.1e5},{"s":"1200-1400 um","g":"p1","t":13.132,"c":1.6e5},{"s":"1200-1400 um","g":"p1","t":13.136,"c":7.6e4},{"s":"1200-1400 um","g":"p1","t":13.142,"c":4.7e4},{"s":"1200-1400 um","g":"p1","t":13.147,"c":2.9e4},{"s":"1200-1400 um","g":"p1","t":13.153,"c":5.1e4},{"s":"1200-1400 um","g":"p1","t":13.158,"c":4.3e4},{"s":"1200-1400 um","g":"p1","t":13.163,"c":6.8e4},{"s":"1200-1400 um","g":"p1","t":13.166,"c":1.35e5},{"s":"1200-1400 um","g":"p1","t":13.170,"c":4.3e4},{"s":"1200-1400 um","g":"p1","t":13.174,"c":1.95e4},{"s":"1200-1400 um","g":"p1","t":13.177,"c":5.1e3},{"s":"1200-1400 um","g":"p1","t":13.180,"c":1.6e4},{"s":"1200-1400 um","g":"p1","t":13.185,"c":2.4e4},{"s":"1200-1400 um","g":"p1","t":13.188,"c":4.3e4},{"s":"1200-1400 um","g":"p1","t":13.191,"c":5.6e4},{"s":"1200-1400 um","g":"p1","t":13.194,"c":1.35e4},{"s":"1200-1400 um","g":"p1","t":13.198,"c":1.5e4},{"s":"1200-1400 um","g":"p1","t":13.199,"c":1e4},
{"s":"1200-1400 um","g":"p2","t":13.404,"c":6e3},{"s":"1200-1400 um","g":"p2","t":13.407,"c":6e3},
{"s":"1200-1400 um","g":"p3","t":13.414,"c":6e3},{"s":"1200-1400 um","g":"p3","t":13.417,"c":5.8e3},
{"s":"1200-1400 um","g":"p4","t":13.441,"c":5.8e3},{"s":"1200-1400 um","g":"p4","t":13.443,"c":5.6e3},
{"s":"1200-1400 um","g":"p5","t":13.726,"c":1.8e4},{"s":"1200-1400 um","g":"p5","t":13.728,"c":6.3e3},{"s":"1200-1400 um","g":"p5","t":13.731,"c":1.1e4},{"s":"1200-1400 um","g":"p5","t":13.734,"c":3.5e3},{"s":"1200-1400 um","g":"p5","t":13.737,"c":3e4},{"s":"1200-1400 um","g":"p5","t":13.740,"c":1.35e4},{"s":"1200-1400 um","g":"p5","t":13.742,"c":4e4},{"s":"1200-1400 um","g":"p5","t":13.743,"c":1.5e3},{"s":"1200-1400 um","g":"p5","t":13.745,"c":1.8e4},{"s":"1200-1400 um","g":"p5","t":13.747,"c":1.05e5},{"s":"1200-1400 um","g":"p5","t":13.750,"c":1.26e4},
{"s":"1200-1400 um","g":"p6","t":13.753,"c":1.2e4},{"s":"1200-1400 um","g":"p6","t":13.756,"c":1.15e4},
{"s":"1200-1400 um","g":"p7","t":13.767,"c":3.5e3},{"s":"1200-1400 um","g":"p7","t":13.769,"c":1.1e4},{"s":"1200-1400 um","g":"p7","t":13.771,"c":7.8e4},{"s":"1200-1400 um","g":"p7","t":13.773,"c":2.5e4},{"s":"1200-1400 um","g":"p7","t":13.776,"c":3.5e3},{"s":"1200-1400 um","g":"p7","t":13.778,"c":5.2e4},{"s":"1200-1400 um","g":"p7","t":13.781,"c":9.3e4},{"s":"1200-1400 um","g":"p7","t":13.783,"c":1.26e5},{"s":"1200-1400 um","g":"p7","t":13.786,"c":2.5e4},{"s":"1200-1400 um","g":"p7","t":13.789,"c":1.35e4},{"s":"1200-1400 um","g":"p7","t":13.791,"c":6.3e3},{"s":"1200-1400 um","g":"p7","t":13.794,"c":2.5e4},{"s":"1200-1400 um","g":"p7","t":13.796,"c":6.5e4},{"s":"1200-1400 um","g":"p7","t":13.799,"c":2e4},{"s":"1200-1400 um","g":"p7","t":13.801,"c":5.2e4},{"s":"1200-1400 um","g":"p7","t":13.804,"c":2.7e4},{"s":"1200-1400 um","g":"p7","t":13.806,"c":6.5e4},{"s":"1200-1400 um","g":"p7","t":13.809,"c":1.15e5},{"s":"1200-1400 um","g":"p7","t":13.812,"c":6.5e4},{"s":"1200-1400 um","g":"p7","t":13.814,"c":1.05e5},{"s":"1200-1400 um","g":"p7","t":13.817,"c":7.8e4},{"s":"1200-1400 um","g":"p7","t":13.819,"c":1.05e5},
{"s":"1200-1400 um","g":"p8","t":13.823,"c":4.8e4},{"s":"1200-1400 um","g":"p8","t":13.825,"c":2e4},{"s":"1200-1400 um","g":"p8","t":13.828,"c":8.3e3},{"s":"1200-1400 um","g":"p8","t":13.830,"c":3e4},{"s":"1200-1400 um","g":"p8","t":13.833,"c":1.5e4},{"s":"1200-1400 um","g":"p8","t":13.836,"c":3.5e4},{"s":"1200-1400 um","g":"p8","t":13.838,"c":6.3e3},{"s":"1200-1400 um","g":"p8","t":13.841,"c":2.2e4},
{"s":"1200-1400 um","g":"p9","t":13.867,"c":2.9e3},{"s":"1200-1400 um","g":"p9","t":13.868,"c":1.35e4},{"s":"1200-1400 um","g":"p9","t":13.870,"c":3e4},{"s":"1200-1400 um","g":"p9","t":13.872,"c":2.5e4},

{"s":"4200-4600 um","g":"r1","t":12.839,"c":2e3},{"s":"4200-4600 um","g":"r1","t":12.842,"c":8e3},{"s":"4200-4600 um","g":"r1","t":12.844,"c":2e3},
{"s":"4200-4600 um","g":"r1b","t":12.848,"c":1.8e3},{"s":"4200-4600 um","g":"r1b","t":12.851,"c":1.8e3},{"s":"4200-4600 um","g":"r1b","t":12.853,"c":3.5e3},{"s":"4200-4600 um","g":"r1b","t":12.855,"c":1.8e3},
{"s":"4200-4600 um","g":"r2","t":12.877,"c":4e3},{"s":"4200-4600 um","g":"r2","t":12.879,"c":1.26e4},{"s":"4200-4600 um","g":"r2","t":12.881,"c":6e3},{"s":"4200-4600 um","g":"r2","t":12.883,"c":1.6e4},{"s":"4200-4600 um","g":"r2","t":12.885,"c":6e3},{"s":"4200-4600 um","g":"r2","t":12.887,"c":4e3},
{"s":"4200-4600 um","g":"r3","t":12.891,"c":2.1e3},{"s":"4200-4600 um","g":"r3","t":12.893,"c":2.1e3},
{"s":"4200-4600 um","g":"r4","t":12.901,"c":2.2e3},{"s":"4200-4600 um","g":"r4","t":12.904,"c":2.2e3},
{"s":"4200-4600 um","g":"r5","t":12.939,"c":1.2e4},{"s":"4200-4600 um","g":"r5","t":12.942,"c":6e3},{"s":"4200-4600 um","g":"r5","t":12.945,"c":1.35e3},{"s":"4200-4600 um","g":"r5","t":12.947,"c":1e4},{"s":"4200-4600 um","g":"r5","t":12.950,"c":1.6e4},{"s":"4200-4600 um","g":"r5","t":12.953,"c":4.5e3},{"s":"4200-4600 um","g":"r5","t":12.955,"c":1.8e4},{"s":"4200-4600 um","g":"r5","t":12.958,"c":4.5e3},{"s":"4200-4600 um","g":"r5","t":12.961,"c":1e4},{"s":"4200-4600 um","g":"r5","t":12.964,"c":5e3},{"s":"4200-4600 um","g":"r5","t":12.965,"c":1.5e4},{"s":"4200-4600 um","g":"r5","t":12.968,"c":2.4e4},{"s":"4200-4600 um","g":"r5","t":12.970,"c":6e3},{"s":"4200-4600 um","g":"r5","t":12.972,"c":2.1e3},{"s":"4200-4600 um","g":"r5","t":12.975,"c":6e3},{"s":"4200-4600 um","g":"r5","t":12.977,"c":9e3},{"s":"4200-4600 um","g":"r5","t":12.980,"c":4e3},{"s":"4200-4600 um","g":"r5","t":12.983,"c":6.5e3},{"s":"4200-4600 um","g":"r5","t":12.986,"c":2.1e3},{"s":"4200-4600 um","g":"r5","t":12.988,"c":8.3e3},

{"s":"10000-15000 um","g":"t1","t":12.877,"c":500},{"s":"10000-15000 um","g":"t1","t":12.878,"c":126},{"s":"10000-15000 um","g":"t1","t":12.879,"c":320},{"s":"10000-15000 um","g":"t1","t":12.880,"c":600},{"s":"10000-15000 um","g":"t1","t":12.881,"c":200},{"s":"10000-15000 um","g":"t1","t":12.882,"c":630}
],
"cwc": [
{"t":12.771,"v":0},{"t":12.775,"v":0.05},{"t":12.779,"v":0.05},{"t":12.783,"v":0.09},{"t":12.786,"v":0.13},{"t":12.790,"v":0.06},{"t":12.793,"v":0.11},{"t":12.798,"v":0.15},{"t":12.803,"v":0.15},{"t":12.808,"v":0.09},{"t":12.813,"v":0.15},{"t":12.817,"v":0.12},{"t":12.820,"v":0.15},{"t":12.823,"v":0.21},{"t":12.825,"v":0.31},{"t":12.828,"v":0.45},{"t":12.830,"v":0.55},{"t":12.833,"v":0.73},{"t":12.835,"v":0.85},{"t":12.840,"v":0.89},{"t":12.848,"v":0.94},{"t":12.855,"v":0.97},{"t":12.860,"v":1.0},{"t":12.862,"v":1.66},{"t":12.863,"v":1.25},{"t":12.865,"v":1.12},{"t":12.868,"v":1.22},{"t":12.870,"v":1.18},{"t":12.871,"v":0.38},{"t":12.872,"v":1.2},{"t":12.877,"v":1.3},{"t":12.880,"v":1.36},{"t":12.882,"v":1.94},{"t":12.884,"v":1.82},{"t":12.886,"v":1.73},{"t":12.888,"v":1.6},{"t":12.889,"v":0},{"t":13.017,"v":0},{"t":13.018,"v":0.33},{"t":13.023,"v":0.29},{"t":13.028,"v":0.25},{"t":13.031,"v":0.31},{"t":13.033,"v":0.51},{"t":13.035,"v":0.3},{"t":13.043,"v":0.29},{"t":13.053,"v":0.23},{"t":13.063,"v":0.18},{"t":13.078,"v":0.15},{"t":13.093,"v":0.11},{"t":13.102,"v":0.09},{"t":13.127,"v":0.08},{"t":13.152,"v":0.07},{"t":13.164,"v":0.053},{"t":13.200,"v":0.053},{"t":13.206,"v":0.02},{"t":13.207,"v":0.053},{"t":13.251,"v":0.047},{"t":13.300,"v":0.045},{"t":13.325,"v":0.043},{"t":13.338,"v":0.013},{"t":13.356,"v":0.006},{"t":13.405,"v":0.01},{"t":13.455,"v":0.013},{"t":13.480,"v":0.012},{"t":13.487,"v":0.028},{"t":13.500,"v":0.025},{"t":13.514,"v":0.01},{"t":13.519,"v":0.0},{"t":13.578,"v":0.006},{"t":13.613,"v":0.011},{"t":13.647,"v":0.016},{"t":13.652,"v":0.028},{"t":13.660,"v":0.04},{"t":13.666,"v":0.07},{"t":13.672,"v":0.042},{"t":13.682,"v":0.028},{"t":13.692,"v":0.006},{"t":13.726,"v":0.004},{"t":13.741,"v":0.025},{"t":13.751,"v":0.013},{"t":13.766,"v":0.022},{"t":13.781,"v":0.01},{"t":13.790,"v":0.04},{"t":13.798,"v":0.064},{"t":13.803,"v":0.113},{"t":13.805,"v":0.573},{"t":13.808,"v":0.863},{"t":13.809,"v":0.706},{"t":13.811,"v":0.403},{"t":13.814,"v":0.234},{"t":13.818,"v":0.421},{"t":13.821,"v":0.246},{"t":13.825,"v":0.282},{"t":13.828,"v":0.185},{"t":13.832,"v":0.161},{"t":13.840,"v":0.125},{"t":13.850,"v":0.088},{"t":13.860,"v":0.064},{"t":13.870,"v":0.046},{"t":13.879,"v":0.07},{"t":13.887,"v":0.088},{"t":13.889,"v":0.2},{"t":13.891,"v":0.185},{"t":13.893,"v":0.04},{"t":13.905,"v":0.016},{"t":13.925,"v":0.004},{"t":13.937,"v":0.028},{"t":13.944,"v":0.02},{"t":13.951,"v":0.042},{"t":13.961,"v":0.01},{"t":13.978,"v":0.004},{"t":13.988,"v":0.012},{"t":14.0,"v":0.01}
],
"marker": [{"t":12.8806,"v":1.885}],
"anchor": [{"t":13.0}]
},
"bounds": "flush",
"center": true,
"spacing": 163,
"vconcat": [
{
  "title": {"text": "Aerosol-Cloud-Precipitation Particle Concentration - Sept. 12, 2006", "anchor": "middle", "frame": "group", "dx": 45, "offset": -30, "baseline": "alphabetic", "fontSize": 19, "fontWeight": "bold", "color": "#333333", "font": "Liberation Sans"},
  "width": 812, "height": 600,
  "resolve": {"axis": {"x": "independent"}},
  "layer": [
  {
    "data": {"name": "conc"},
    "mark": {"type": "line", "strokeWidth": 1, "clip": true},
    "encoding": {
      "x": {"field": "t", "type": "quantitative", "scale": {"domain": [12.75, 14.0], "nice": false, "zero": false},
        "axis": {"orient": "bottom", "values": [12.75,12.95,13.15,13.35,13.55,13.75,13.95], "format": ".2f", "title": "Time (UTC)", "titleFontSize": 15, "titleFontWeight": "bold", "titlePadding": 13, "labelFontSize": 15, "labelPadding": 10, "tickSize": 6, "tickColor": "#777777", "domainColor": "#888888", "domainWidth": 2, "grid": false, "labelFlush": false, "labelOverlap": false}},
      "y": {"field": "c", "type": "quantitative", "scale": {"type": "log", "domain": [1, 1e15], "nice": false},
        "axis": {"values": [1,10,100,1000,10000,100000,1000000,10000000,100000000,1000000000,10000000000,100000000000,1000000000000,10000000000000,100000000000000,1000000000000000],
          "labelExpr": "'1.0E+' + (round(log(datum.value)/LN10) < 10 ? '0' : '') + round(log(datum.value)/LN10)",
          "title": "Conc. per bin width (#/m^-4)", "titleFontSize": 14, "titleFontWeight": "bold", "titlePadding": 21, "labelFontSize": 15, "labelPadding": 4, "tickSize": 6, "tickColor": "#777777", "domainColor": "#888888", "domainWidth": 2, "grid": true,
          "gridColor": {"condition": {"test": "datum.value > 5e14", "value": "#aaaaaa"}, "value": "#3a3a3a"}, "gridWidth": 1.5, "labelOverlap": false, "labelFlush": false}},
      "color": {"field": "s", "type": "nominal",
        "scale": {"domain": ["0.64-0.72 um","9.05-11.35 um","25-75 um","275-325 um","1200-1400 um","4200-4600 um","10000-15000 um"],
                  "range": ["#35358c","#f2338f","#f2e21c","#17b2ea","#7b2a88","#8a1c1c","#199a9a"]},
        "legend": {"orient": "none", "legendX": 865, "legendY": 206, "title": null, "strokeColor": "#333333", "fillColor": "white", "padding": 6, "symbolType": "M-1.25,0H1.25", "symbolSize": 576, "symbolStrokeWidth": 1.5, "labelFontSize": 16, "labelColor": "#333333", "labelFont": "Liberation Sans", "rowPadding": 5, "labelOffset": 3}},
      "detail": {"field": "g"}
    }
  },
  {
    "data": {"name": "anchor"},
    "mark": {"type": "rule", "opacity": 0},
    "encoding": {
      "x": {"field": "t", "type": "quantitative",
        "axis": {"orient": "top", "title": "(a)", "labels": false, "ticks": false, "domain": false, "grid": false, "titleFont": "Liberation Serif", "titleFontSize": 21, "titleFontWeight": "normal", "titleColor": "#111111", "titleAngle": 0, "titleAlign": "left", "titleBaseline": "middle", "titleX": -89, "titleY": -57}}
    }
  }
  ]
},
{
  "title": {"text": "Cloud water content - TD 8 (1245-1400 UTC, Sept. 12, 2006)", "anchor": "middle", "frame": "group", "dx": 26, "offset": -19, "baseline": "alphabetic", "fontSize": 17, "fontWeight": "bold", "color": "#333333", "font": "Liberation Sans"},
  "width": 842, "height": 555,
  "resolve": {"axis": {"x": "independent"}},
  "layer": [
    {"data": {"name": "cwc"}, "mark": {"type": "line", "color": "#2d2d84", "strokeWidth": 1.3},
     "encoding": {
      "x": {"field": "t", "type": "quantitative", "scale": {"domain": [12.75, 14.0], "nice": false, "zero": false},
        "axis": {"orient": "bottom", "values": [12.75,12.95,13.15,13.35,13.55,13.75,13.95], "format": ".2f", "title": "Time (UTC)", "titleFontSize": 14, "titleFontWeight": "bold", "titlePadding": 14, "labelFontSize": 13, "labelFontWeight": "bold", "labelColor": "#555555", "labelPadding": 7, "tickSize": 5, "tickColor": "#777777", "domainColor": "#888888", "domainWidth": 1.5, "grid": false, "labelFlush": false, "labelOverlap": false}},
      "y": {"field": "v", "type": "quantitative", "scale": {"domain": [0, 2], "nice": false},
        "axis": {"values": [0,0.2,0.4,0.6,0.8,1,1.2,1.4,1.6,1.8,2], "format": "~g", "title": "CWC (g/m3)", "titleFontSize": 13, "titleFontWeight": "bold", "titlePadding": 10, "labelFontSize": 13, "labelFontWeight": "bold", "labelColor": "#555555", "labelPadding": 6, "tickSize": 5, "tickColor": "#777777", "domainColor": "#888888", "domainWidth": 1.5, "grid": true,
          "gridColor": {"condition": {"test": "datum.value == 0.8 || datum.value == 2", "value": "#c4c4c4"}, "value": "#2a2a2a"}, "gridWidth": 1.3, "labelOverlap": false, "labelFlush": false}}
     }},
    {"data": {"name": "marker"}, "mark": {"type": "point", "shape": "circle", "filled": false, "size": 4624, "stroke": "#e0602d", "strokeWidth": 2.5, "opacity": 1},
     "encoding": {"x": {"field": "t", "type": "quantitative", "axis": null}, "y": {"field": "v", "type": "quantitative"}}},
    {"data": {"name": "anchor"}, "mark": {"type": "rule", "opacity": 0},
     "encoding": {"x": {"field": "t", "type": "quantitative",
        "axis": {"orient": "top", "title": "(b)", "labels": false, "ticks": false, "domain": false, "grid": false, "titleFont": "Liberation Serif", "titleFontSize": 21, "titleFontWeight": "normal", "titleColor": "#111111", "titleAngle": 0, "titleAlign": "left", "titleBaseline": "middle", "titleX": -72, "titleY": -42}}}}
  ]
}
]
}
